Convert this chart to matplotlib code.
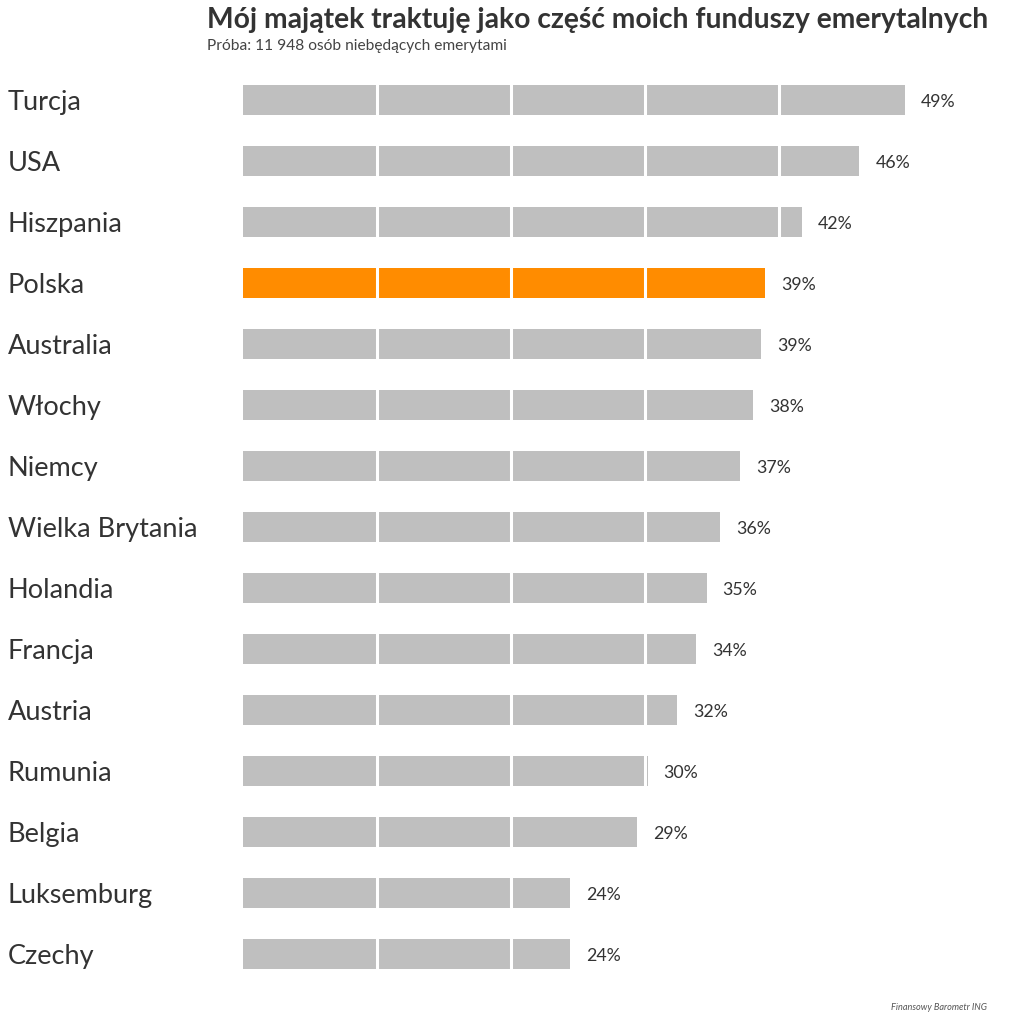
import numpy as np
import matplotlib.pyplot as plt

plt.rcParams['font.family'] = ['Lato', 'DejaVu Sans']

countries = ["Turcja", "USA", "Hiszpania", "Polska", "Australia", "Włochy", "Niemcy",
             "Wielka Brytania", "Holandia", "Francja", "Austria", "Rumunia", "Belgia",
             "Luksemburg", "Czechy"]
values = [49.4, 46.0, 41.7, 39.0, 38.7, 38.1, 37.1, 35.6, 34.6, 33.8, 32.4, 30.2, 29.4, 24.4, 24.4]
labels = ["49%", "46%", "42%", "39%", "39%", "38%", "37%", "36%", "35%", "34%", "32%",
          "30%", "29%", "24%", "24%"]
highlight = "Polska"

fig = plt.figure(figsize=(10.24, 10.23), dpi=100)
ax = fig.add_axes([243 / 1024, 0.0376, 777 / 1024, 0.8944])

y = np.arange(len(countries))
colors = ["#FF8C00" if c == highlight else "#BFBFBF" for c in countries]
ax.barh(y, values, height=0.49, color=colors, zorder=1)

# white separators every 10 p.p.
for g in [10, 20, 30, 40]:
    ax.axvline(g, color="white", lw=2.2, zorder=2)

for yi, v, lab in zip(y, values, labels):
    ax.text(v + 1.2, yi, lab, va="center_baseline", ha="left", fontsize=12.8,
            color="#333333")

ax.set_xlim(0, 58)
ax.set_ylim(14.5, -0.5)
ax.axis("off")

# country names in figure coords, aligned with bars
for yi, c in zip(y, countries):
    disp = ax.transData.transform((0, yi))
    fy = fig.transFigure.inverted().transform(disp)[1]
    fig.text(8 / 1024, fy, c, va="center_baseline", ha="left", fontsize=19.5,
             color="#333333")

fig.text(207 / 1024, 1 - 20 / 1023, "Mój majątek traktuję jako część moich funduszy emerytalnych",
         fontsize=20.3, fontweight="bold", color="#333333", va="center", ha="left")
fig.text(207 / 1024, 1 - 46 / 1023, "Próba: 11 948 osób niebędących emerytami",
         fontsize=11.2, color="#444444", va="center", ha="left")
fig.text(987 / 1024, 1 - 1007 / 1023, "Finansowy Barometr ING",
         fontsize=6.6, style="italic", color="#555555", va="center", ha="right")

fig.savefig("out.png", dpi=100)
